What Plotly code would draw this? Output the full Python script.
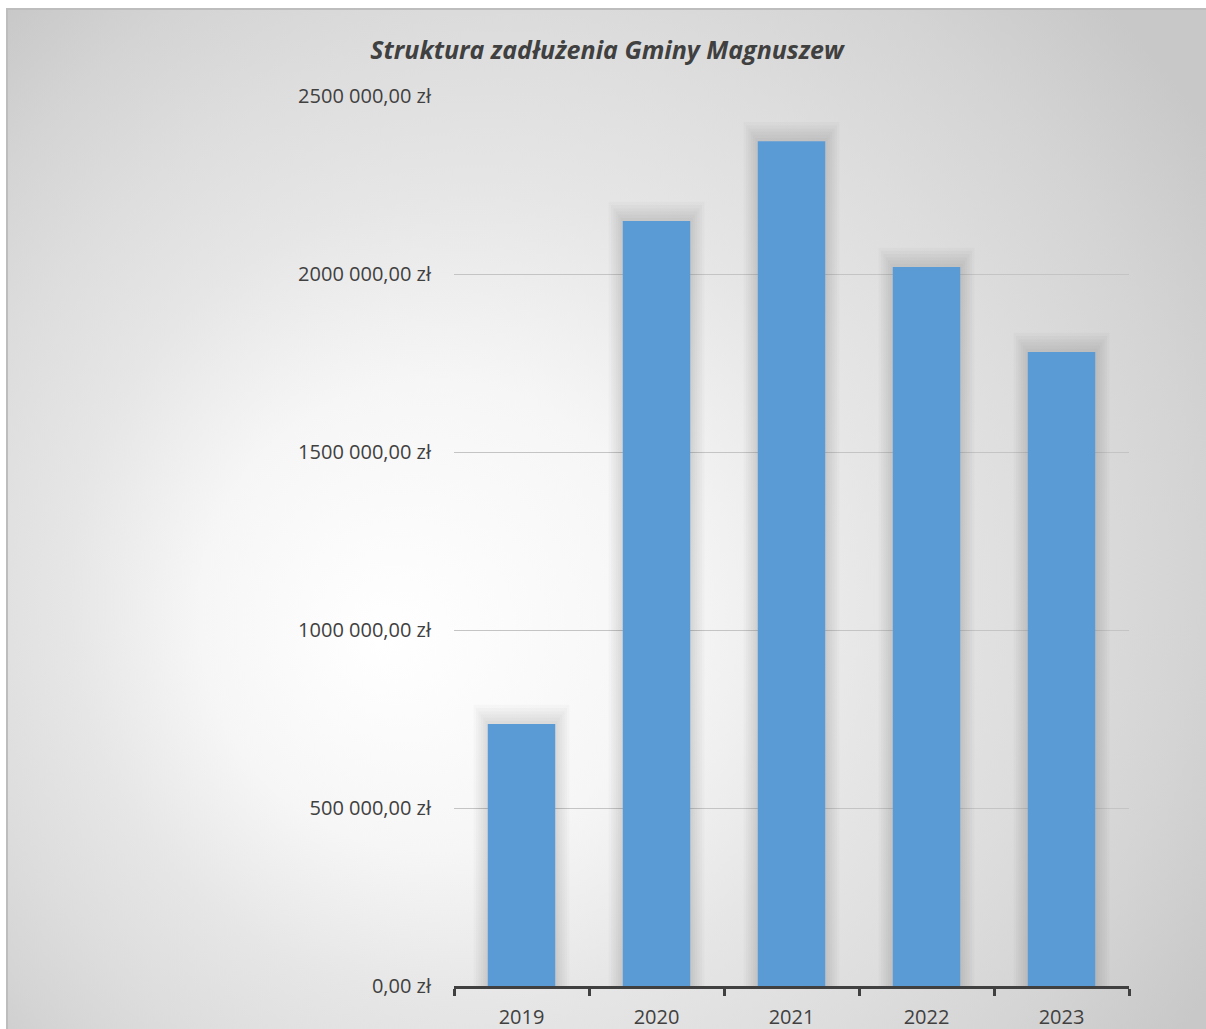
import base64
import plotly.graph_objects as go

years = ["2019", "2020", "2021", "2022", "2023"]
debt = [736000, 2149000, 2373000, 2020000, 1781000]
tick_values = [0, 500000, 1000000, 1500000, 2000000, 2500000]
tick_labels = ["0,00 zł", "500 000,00 zł", "1000 000,00 zł", "1500 000,00 zł",
               "2000 000,00 zł", "2500 000,00 zł"]
title_text = "Struktura zadłużenia Gminy Magnuszew"

W, H = 1206, 1029
L, R, T, B = 454, W - 1129, 96, H - 986
pw, ph = W - L - R, H - T - B
E = 6  # bleed around the canvas for the background image

svg = f'''<svg xmlns="http://www.w3.org/2000/svg" width="{W + 2 * E}" height="{H + 2 * E}" viewBox="{-E} {-E} {W + 2 * E} {H + 2 * E}" preserveAspectRatio="none">
<defs><radialGradient id="g" gradientUnits="userSpaceOnUse" cx="560" cy="560" r="780" fx="380" fy="640">
<stop offset="0" stop-color="#ffffff"/>
<stop offset="0.3" stop-color="#f6f6f6"/>
<stop offset="0.52" stop-color="#e6e6e6"/>
<stop offset="0.7" stop-color="#dddddd"/>
<stop offset="0.85" stop-color="#d4d4d4"/>
<stop offset="1" stop-color="#c8c8c8"/>
</radialGradient></defs>
<rect x="{-E}" y="{-E}" width="{W + 2 * E}" height="{H + 2 * E}" fill="#ffffff"/>
<rect x="7" y="9" width="{W + 20}" height="{H + 20}" fill="url(#g)" stroke="#bdbdbd" stroke-width="2"/>
</svg>'''
uri = "data:image/svg+xml;base64," + base64.b64encode(svg.encode()).decode()

fig = go.Figure()
# soft shadow layers
for k in range(6, 0, -1):
    fig.add_trace(go.Bar(
        x=years, y=[v + k * 9000 for v in debt], width=0.5 + k * 0.035,
        marker=dict(color="rgba(0,0,0,0.02)", line=dict(width=0)),
        hoverinfo="skip", showlegend=False))
fig.add_trace(go.Bar(
    x=years, y=debt, width=0.5,
    marker=dict(color="#5B9BD5", line=dict(width=0)),
    showlegend=False))

fig.update_layout(
    width=W, height=H, autosize=False,
    margin=dict(l=L, r=R, t=T, b=B, pad=0, autoexpand=False),
    barmode="overlay",
    paper_bgcolor="#ffffff",
    plot_bgcolor="rgba(0,0,0,0)",
    font=dict(family="Open Sans", color="#404040", size=20),
    title=dict(text=f"<b><i>{title_text}</i></b>", x=607 / W, xanchor="center",
               y=1 - 50 / H, yanchor="middle", xref="container", yref="container",
               font=dict(family="Open Sans", size=25, color="#404040")),
    images=[dict(source=uri, xref="paper", yref="paper",
                 x=-(L + E) / pw, y=1 + (T + E) / ph,
                 sizex=(W + 2 * E) / pw, sizey=(H + 2 * E) / ph,
                 xanchor="left", yanchor="top", sizing="stretch", layer="below")],
    xaxis=dict(type="category", showgrid=False, showline=True, linecolor="#404040",
               linewidth=3, ticks="outside", tickson="boundaries", ticklen=7,
               tickwidth=3, tickcolor="#404040", ticklabelstandoff=11,
               automargin=False,
               tickfont=dict(family="Open Sans", size=20, color="#404040"),
               fixedrange=True),
    yaxis=dict(range=[0, 2500000], tickvals=tick_values, ticktext=tick_labels,
               showgrid=True, gridcolor="#c4c4c4", gridwidth=1, zeroline=False,
               showline=False, ticks="", ticklabelstandoff=22, automargin=False,
               tickfont=dict(family="Open Sans", size=20, color="#404040"),
               fixedrange=True),
)

fig.write_html(
    "out.html",
    config={"displayModeBar": False, "responsive": False},
    post_script="document.body.style.margin='0';document.body.style.overflow='hidden';",
)
